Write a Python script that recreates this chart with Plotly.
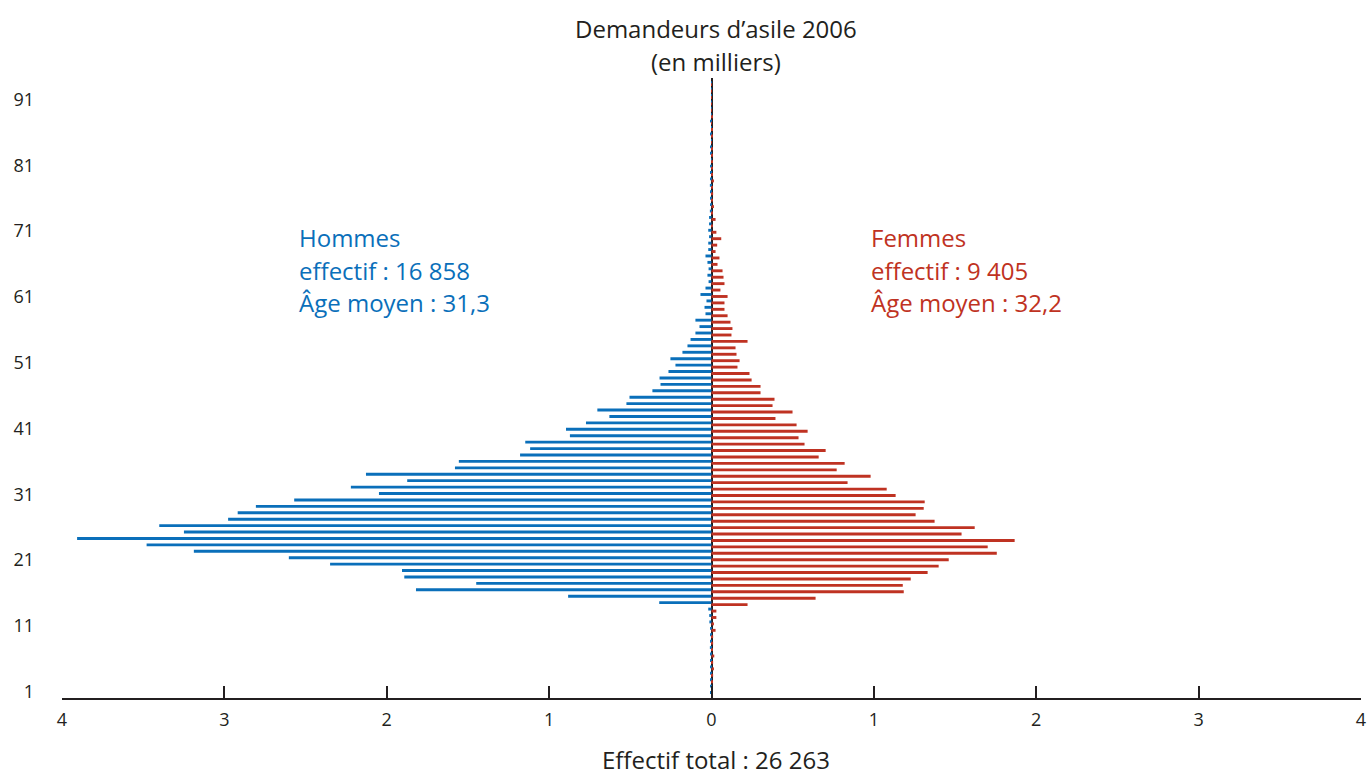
import plotly.graph_objects as go

# --- data (milliers, par âge) ---
ages = list(range(0, 96))

hommes = [
    0.005, 0.006, 0.008, 0.006, 0.008, 0.008, 0.008, 0.010, 0.008, 0.008,   # 0-9
    0.008, 0.013, 0.014, 0.020, 0.322, 0.883, 1.820, 1.449, 1.892, 1.906,   # 10-19
    2.349, 2.603, 3.188, 3.479, 3.907, 3.249, 3.401, 2.977, 2.918, 2.806,   # 20-29
    2.570, 2.048, 2.221, 1.874, 2.128, 1.580, 1.556, 1.179, 1.117, 1.147,   # 30-39
    0.872, 0.896, 0.773, 0.629, 0.703, 0.524, 0.505, 0.364, 0.314, 0.320,   # 40-49
    0.265, 0.222, 0.253, 0.179, 0.148, 0.129, 0.099, 0.074, 0.099, 0.037,   # 50-59
    0.043, 0.031, 0.068, 0.037, 0.018, 0.025, 0.018, 0.025, 0.037, 0.020,   # 60-69
    0.020, 0.015, 0.020, 0.015, 0.015, 0.010, 0.005, 0.004, 0.004, 0.010,   # 70-79
    0.004, 0.004, 0.006, 0.003, 0.005, 0.004, 0.003, 0.004, 0.003, 0.004,   # 80-89
    0.003, 0.003, 0.003, 0.002, 0.003, 0.002,                               # 90-95
]

femmes = [
    0.005, 0.008, 0.006, 0.010, 0.015, 0.010, 0.017, 0.008, 0.010, 0.010,   # 0-9
    0.025, 0.015, 0.030, 0.030, 0.222, 0.641, 1.184, 1.178, 1.227, 1.331,   # 10-19
    1.399, 1.461, 1.757, 1.701, 1.867, 1.540, 1.621, 1.374, 1.257, 1.307,   # 20-29
    1.313, 1.134, 1.079, 0.838, 0.980, 0.771, 0.820, 0.660, 0.703, 0.573,   # 30-39
    0.536, 0.592, 0.524, 0.394, 0.499, 0.376, 0.388, 0.302, 0.302, 0.247,   # 40-49
    0.234, 0.160, 0.173, 0.154, 0.148, 0.222, 0.123, 0.129, 0.117, 0.099,   # 50-59
    0.080, 0.080, 0.099, 0.055, 0.080, 0.074, 0.068, 0.037, 0.049, 0.025,   # 60-69
    0.035, 0.060, 0.030, 0.008, 0.025, 0.006, 0.015, 0.008, 0.010, 0.005,   # 70-79
    0.015, 0.005, 0.004, 0.006, 0.004, 0.005, 0.003, 0.004, 0.004, 0.003,   # 80-89
    0.004, 0.003, 0.003, 0.003, 0.002, 0.002,                               # 90-95
]

age_ticks = [1, 11, 21, 31, 41, 51, 61, 71, 81, 91]
x_ticks = [-4, -3, -2, -1, 0, 1, 2, 3, 4]
x_ticktext = ['4', '3', '2', '1', '0', '1', '2', '3', '4']

BLUE = '#0A6FBA'
RED = '#BF3222'
DARK = '#231F20'
FONT = 'Open Sans'

W, H = 1369, 776
M_L, M_R, M_T, M_B = 62, 8, 78, 78
PW, PH = W - M_L - M_R, H - M_T - M_B


def px(x):
    return (x - M_L) / PW


def py(y):
    return (H - M_B - y) / PH


bar_w = 0.45

fig = go.Figure()
fig.add_trace(go.Bar(
    y=ages, x=[-v for v in hommes], orientation='h',
    width=bar_w, offset=-bar_w / 2,
    marker=dict(color=BLUE, line=dict(width=0)),
    name='Hommes', customdata=hommes,
    hovertemplate='Âge %{y} : %{customdata}<extra>Hommes</extra>',
))
fig.add_trace(go.Bar(
    y=ages, x=femmes, orientation='h',
    width=bar_w, offset=-0.31 - bar_w / 2,
    marker=dict(color=RED, line=dict(width=0)),
    name='Femmes',
    hovertemplate='Âge %{y} : %{x}<extra>Femmes</extra>',
))
# axe secondaire pour les étiquettes d'âge
fig.add_trace(go.Scatter(x=[None], y=[None], yaxis='y2', showlegend=False, hoverinfo='skip'))

annots = [
    ('Demandeurs d’asile 2006', 716, 29, 'center', DARK),
    ('(en milliers)', 716, 62, 'center', DARK),
    ('Effectif total : 26 263', 716, 759, 'center', DARK),
    ('Hommes', 298, 237, 'left', BLUE),
    ('effectif : 16 858', 298, 270, 'left', BLUE),
    ('Âge moyen : 31,3', 298, 302, 'left', BLUE),
    ('Femmes', 870, 237, 'left', RED),
    ('effectif : 9 405', 870, 270, 'left', RED),
    ('Âge moyen : 32,2', 870, 302, 'left', RED),
]

fig.update_layout(
    width=W, height=H,
    margin=dict(l=M_L, r=M_R, t=M_T, b=M_B, autoexpand=False),
    paper_bgcolor='white', plot_bgcolor='white',
    barmode='overlay', showlegend=False,
    font=dict(family=FONT, size=18, color=DARK),
    xaxis=dict(
        range=[-4, 4], tickvals=x_ticks, ticktext=x_ticktext,
        ticks='inside', ticklen=12, tickwidth=2, tickcolor=DARK,
        showline=True, linewidth=2, linecolor=DARK,
        showgrid=False, zeroline=True, zerolinecolor=DARK, zerolinewidth=2,
        ticklabelstandoff=4, automargin=False,
        tickfont=dict(size=18, color=DARK), fixedrange=True,
    ),
    yaxis=dict(
        range=[-0.85, 95.72], showticklabels=False, showgrid=False,
        zeroline=False, showline=False, ticks='', fixedrange=True,
        automargin=False,
    ),
    yaxis2=dict(
        overlaying='y', side='left', anchor='x',
        range=[0.03, 94.28], tickvals=age_ticks,
        showgrid=False, zeroline=False, showline=False, ticks='',
        ticklabelstandoff=27, tickfont=dict(size=18, color=DARK),
        fixedrange=True, automargin=False,
    ),
    annotations=[
        dict(text=t, x=px(x), y=py(y), xref='paper', yref='paper',
             xanchor=a, yanchor='middle', showarrow=False, borderpad=0,
             font=dict(family=FONT, size=24, color=c))
        for t, x, y, a, c in annots
    ],
)

# pas de marge autour du graphique dans la page
fig.write_html('out.html', config={'displayModeBar': False},
               post_script="document.body.style.margin='0';")
